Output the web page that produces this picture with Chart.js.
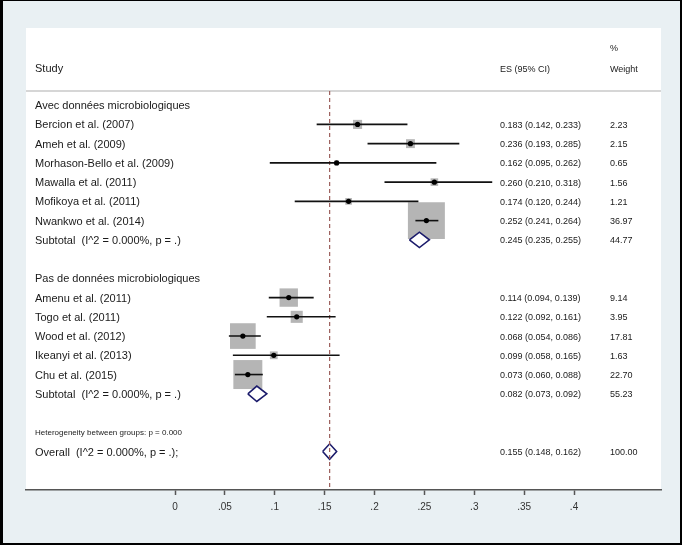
<!DOCTYPE html>
<html>
<head>
<meta charset="utf-8">
<script src="https://cdn.jsdelivr.net/npm/chart.js@4.4.1/dist/chart.umd.min.js"></script>
<style>
  html, body { margin: 0; padding: 0; background: #000; }
  #wrap { width: 682px; height: 545px; }
</style>
</head>
<body>
<div id="wrap"><canvas id="forest" width="682" height="545"></canvas></div>
<script>
// studies (row = line position from top, 0 = first group heading)
const studyNames = [
  'Bercion et al. (2007)', 'Ameh et al. (2009)', 'Morhason-Bello et al. (2009)',
  'Mawalla et al. (2011)', 'Mofikoya et al. (2011)', 'Nwankwo et al. (2014)',
  'Amenu et al. (2011)', 'Togo et al. (2011)', 'Wood et al. (2012)',
  'Ikeanyi et al. (2013)', 'Chu et al. (2015)'
];
const studyRows = [1, 2, 3, 4, 5, 6, 10, 11, 12, 13, 14];
const studyES = [0.183, 0.236, 0.162, 0.260, 0.174, 0.252, 0.114, 0.122, 0.068, 0.099, 0.073];
const studyLo = [0.142, 0.193, 0.095, 0.210, 0.120, 0.241, 0.094, 0.092, 0.054, 0.058, 0.060];
const studyHi = [0.233, 0.285, 0.262, 0.318, 0.244, 0.264, 0.139, 0.161, 0.086, 0.165, 0.088];
const studyWeight = [2.23, 2.15, 0.65, 1.56, 1.21, 36.97, 9.14, 3.95, 17.81, 1.63, 22.70];

// pooled estimates
const pooledNames = ['Subtotal  (I^2 = 0.000%, p = .)', 'Subtotal  (I^2 = 0.000%, p = .)', 'Overall  (I^2 = 0.000%, p = .);'];
const pooledRows = [7, 15, 18];
const pooledES = [0.245, 0.082, 0.155];
const pooledLo = [0.235, 0.073, 0.148];
const pooledHi = [0.255, 0.092, 0.162];
const pooledWeight = ['44.77', '55.23', '100.00'];

const groupNames = ['Avec données microbiologiques', 'Pas de données microbiologiques'];
const groupRows = [0, 9];
const heteroText = 'Heterogeneity between groups: p = 0.000';
const heteroRow = 17;

const xTicks = [0, 0.05, 0.1, 0.15, 0.2, 0.25, 0.3, 0.35, 0.4];
const overallLine = 0.155;

const FONT = '"Liberation Sans", Arial, sans-serif';

function fmt(v, d) { return v.toFixed(d); }
function ciText(e, l, h) { return fmt(e, 3) + ' (' + fmt(l, 3) + ', ' + fmt(h, 3) + ')'; }

let datasets = [];

// center dots
datasets.push({
  type: 'line', showLine: false, order: 0,
  data: studyES.map((v, i) => ({ x: v, y: studyRows[i] })),
  pointRadius: 2.6, pointBackgroundColor: '#000', pointBorderWidth: 0
});

// confidence interval lines
studyES.forEach((v, i) => {
  datasets.push({
    type: 'line', order: 1,
    data: [{ x: studyLo[i], y: studyRows[i] }, { x: studyHi[i], y: studyRows[i] }],
    borderColor: '#111', borderWidth: 1.6, pointRadius: 0
  });
});

// overall dashed reference line
datasets.push({
  type: 'line', order: 2,
  data: [{ x: overallLine, y: -0.73 }, { x: overallLine, y: 20 }],
  borderColor: '#9c5f5c', borderWidth: 1.2, borderDash: [4, 3], pointRadius: 0
});

// diamonds
pooledES.forEach((v, i) => {
  const r = pooledRows[i], h = 0.4;
  datasets.push({
    type: 'line', order: 3,
    data: [
      { x: pooledLo[i], y: r }, { x: v, y: r - h }, { x: pooledHi[i], y: r },
      { x: v, y: r + h }, { x: pooledLo[i], y: r }
    ],
    borderColor: '#1b1b6b', borderWidth: 1.6, backgroundColor: '#fff',
    fill: 'shape', pointRadius: 0, tension: 0
  });
});

// weight boxes, area proportional to weight
datasets.push({
  type: 'line', showLine: false, order: 4,
  data: studyES.map((v, i) => ({ x: v, y: studyRows[i] })),
  pointStyle: 'rect',
  pointRadius: ctx => 6.08 * Math.sqrt(studyWeight[ctx.dataIndex]) / Math.SQRT2,
  pointBackgroundColor: '#b5b5b5', pointBorderWidth: 0
});

const framePlugin = {
  id: 'frame',
  beforeDraw(chart) {
    const c = chart.ctx, a = chart.chartArea;
    c.save();
    c.fillStyle = '#000';
    c.fillRect(0, 0, chart.width, chart.height);
    c.fillStyle = '#e9f0f3';
    c.fillRect(3, 1, chart.width - 5, chart.height - 3);
    c.fillStyle = '#fff';
    c.fillRect(a.left, a.top, a.right - a.left, a.bottom - a.top);
    // header separator
    const y = chart.scales.y.getPixelForValue(-0.73);
    c.strokeStyle = '#c8c8c8';
    c.lineWidth = 1.5;
    c.beginPath();
    c.moveTo(a.left, y);
    c.lineTo(a.right, y);
    c.stroke();
    c.restore();
  }
};

const textPlugin = {
  id: 'texts',
  afterDraw(chart) {
    const c = chart.ctx, a = chart.chartArea, ys = chart.scales.y;
    const xl = a.left + 9, xe = a.left + 474, xw = a.left + 584;
    c.save();
    c.fillStyle = '#1a1a1a';
    c.textBaseline = 'middle';
    c.textAlign = 'left';
    const put = (t, x, row, size) => {
      c.font = size + 'px ' + FONT;
      c.fillText(t, x, ys.getPixelForValue(row) + 1);
    };
    put('Study', xl, -1.93, 11);
    put('ES (95% CI)', xe, -1.93, 9);
    put('%', xw, -2.97, 9);
    put('Weight', xw, -1.93, 9);
    groupNames.forEach((t, i) => put(t, xl, groupRows[i], 11));
    studyNames.forEach((t, i) => {
      put(t, xl, studyRows[i], 11);
      put(ciText(studyES[i], studyLo[i], studyHi[i]), xe, studyRows[i], 9);
      put(fmt(studyWeight[i], 2), xw, studyRows[i], 9);
    });
    pooledNames.forEach((t, i) => {
      put(t, xl, pooledRows[i], 11);
      put(ciText(pooledES[i], pooledLo[i], pooledHi[i]), xe, pooledRows[i], 9);
      put(pooledWeight[i], xw, pooledRows[i], 9);
    });
    put(heteroText, xl, heteroRow, 8);
    c.restore();
  }
};

new Chart(document.getElementById('forest'), {
  type: 'line',
  data: { datasets: datasets },
  plugins: [framePlugin, textPlugin],
  options: {
    responsive: false,
    animation: false,
    events: [],
    layout: { padding: { left: 26, right: 21, top: 28, bottom: 26 } },
    scales: {
      x: {
        type: 'linear',
        min: -0.1494,
        max: 0.4872,
        afterBuildTicks: scale => {
          scale.ticks = xTicks.map(v => ({ value: v }));
        },
        ticks: {
          autoSkip: false,
          maxRotation: 0,
          padding: 6,
          color: '#333',
          font: { family: FONT, size: 10 },
          callback: v => (v === 0 ? '0' : String(+v.toFixed(2)).replace(/^0/, ''))
        },
        grid: { drawOnChartArea: false, drawTicks: true, tickLength: 5, tickColor: '#555', tickWidth: 1.5 },
        border: { color: '#555', width: 1.5 }
      },
      y: {
        type: 'linear',
        reverse: true,
        min: -4.01,
        max: 20.0,
        display: false
      }
    },
    plugins: {
      legend: { display: false },
      tooltip: { enabled: false }
    }
  }
});
</script>
</body>
</html>
